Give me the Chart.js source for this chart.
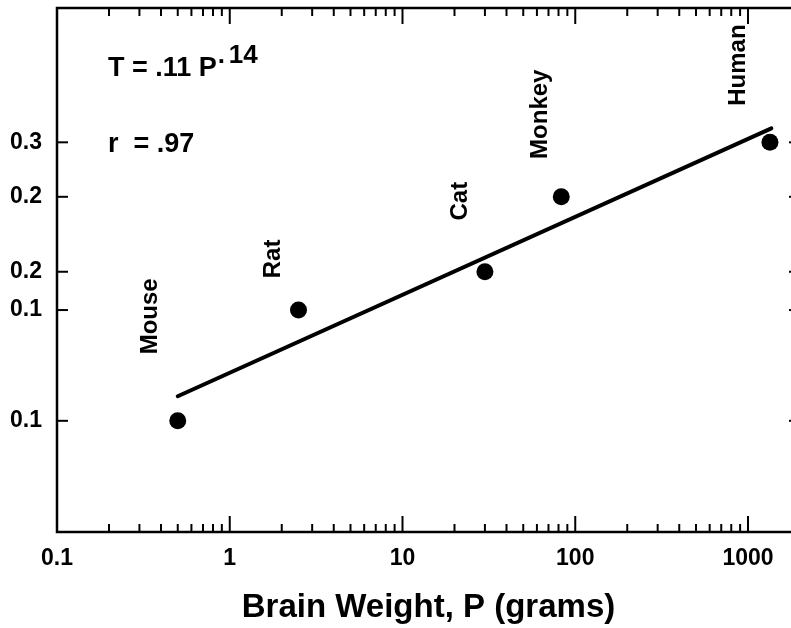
<!DOCTYPE html>
<html>
<head>
<meta charset="utf-8">
<title>Brain weight vs T</title>
<script src="https://cdn.jsdelivr.net/npm/chart.js@4/dist/chart.umd.min.js"></script>
<style>
    html, body { margin: 0; padding: 0; background: #ffffff; overflow: hidden; }
    #wrap { width: 802px; height: 628px; }
</style>
</head>
<body>
<div id="wrap"><canvas id="brainChart" width="802" height="628"></canvas></div>
<script>
// --- DATA ---
const species = ['Mouse', 'Rat', 'Cat', 'Monkey', 'Human'];
const brainWeight = [0.5, 2.5, 30, 83, 1340];          // P (grams)
const tValues = [0.0815, 0.1326, 0.1569, 0.2181, 0.2771];
const fitP = [0.5, 1365];                               // fitted line ends
const fitT = [0.0908, 0.2946];
const xTickValues = [0.1, 1, 10, 100, 1000];
// where each species name sits (data units)
const labelP = [0.38, 1.96, 23.6, 68.5, 957];
const labelT = [0.129, 0.166, 0.214, 0.3135, 0.389];

const FONT = "'Liberation Sans', Arial, Helvetica, sans-serif";
Chart.defaults.font.family = FONT;
Chart.defaults.color = '#000';

// --- FRAME, INWARD TICKS AND TEXT ---
const framePlugin = {
    id: 'frame',
    afterDraw(chart) {
        const { ctx, chartArea: { left, top, right, bottom }, scales: { x, y } } = chart;
        const line = (x1, y1, x2, y2) => {
            ctx.beginPath(); ctx.moveTo(x1, y1); ctx.lineTo(x2, y2); ctx.stroke();
        };
        ctx.save();
        ctx.strokeStyle = '#000';
        ctx.fillStyle = '#000';
        ctx.lineWidth = 2.5;
        ctx.strokeRect(left, top, right - left, bottom - top);

        ctx.lineWidth = 2;
        for (let d = -1; d <= 3; d++) {
            for (let m = 1; m <= 9; m++) {
                const v = m * Math.pow(10, d);
                if (v <= x.min || v >= x.max) continue;
                const px = x.getPixelForValue(v);
                const len = m === 1 ? 16 : 8;
                line(px, bottom, px, bottom - len);
                line(px, top, px, top + len);
            }
        }
        tValues.forEach(v => {
            const py = y.getPixelForValue(v);
            line(left, py, left + 11, py);
            line(right, py, right - 11, py);
        });

        // species names, vertical
        ctx.font = 'bold 24px ' + FONT;
        ctx.textAlign = 'center';
        ctx.textBaseline = 'alphabetic';
        species.forEach((name, i) => {
            ctx.save();
            ctx.translate(x.getPixelForValue(labelP[i]), y.getPixelForValue(labelT[i]));
            ctx.rotate(-Math.PI / 2);
            ctx.fillText(name, 0, 0);
            ctx.restore();
        });

        // equation + r
        ctx.textAlign = 'left';
        ctx.font = 'bold 27px ' + FONT;
        ctx.fillText('T = .11 P', left + 51, top + 68);
        const w = ctx.measureText('T = .11 P').width;
        ctx.font = 'bold 26px ' + FONT;
        ctx.fillText('.', left + 51 + w + 1, top + 55);
        ctx.fillText('14', left + 51 + w + 12, top + 55);
        ctx.font = 'bold 27px ' + FONT;
        ctx.fillText('r  = .97', left + 51, top + 144);
        ctx.restore();
    }
};

const ctx = document.getElementById('brainChart').getContext('2d');
new Chart(ctx, {
    type: 'scatter',
    data: {
        datasets: [
            {
                data: brainWeight.map((p, i) => ({ x: p, y: tValues[i] })),
                pointRadius: 8.5,
                pointHoverRadius: 8.5,
                backgroundColor: '#000',
                borderWidth: 0
            },
            {
                data: fitP.map((p, i) => ({ x: p, y: fitT[i] })),
                showLine: true,
                borderColor: '#000',
                borderWidth: 4,
                borderCapStyle: 'round',
                pointRadius: 0,
                fill: false
            }
        ]
    },
    options: {
        responsive: false,
        animation: false,
        events: [],
        layout: { autoPadding: false, padding: { top: 8, right: 2, left: 0, bottom: 0 } },
        plugins: { legend: { display: false }, tooltip: { enabled: false } },
        scales: {
            x: {
                type: 'logarithmic',
                min: 0.1,
                max: 2000,
                grid: { display: false, drawTicks: false },
                border: { display: false },
                afterBuildTicks: s => { s.ticks = xTickValues.map(v => ({ value: v })); },
                ticks: {
                    font: { size: 23, weight: 'bold' },
                    color: '#000',
                    padding: 13,
                    maxRotation: 0,
                    autoSkip: false,
                    callback: v => String(v)
                },
                title: {
                    display: true,
                    text: 'Brain Weight, P (grams)',
                    font: { size: 33, weight: 'bold' },
                    color: '#000',
                    padding: 0
                },
                afterFit: s => {
                    s.height = 96;
                    s.paddingLeft = 0;
                    s.paddingRight = 0;
                }
            },
            y: {
                type: 'logarithmic',
                min: 0.05,
                max: 0.5,
                grid: { display: false, drawTicks: false },
                border: { display: false },
                afterBuildTicks: s => { s.ticks = tValues.map(v => ({ value: v })); },
                ticks: {
                    font: { size: 23, weight: 'bold' },
                    color: '#000',
                    padding: 15,
                    autoSkip: false,
                    callback: v => Number(v).toFixed(1)
                },
                afterFit: s => {
                    s.width = 57;
                    s.paddingTop = 0;
                    s.paddingBottom = 0;
                }
            }
        }
    },
    plugins: [framePlugin]
});
</script>
</body>
</html>
